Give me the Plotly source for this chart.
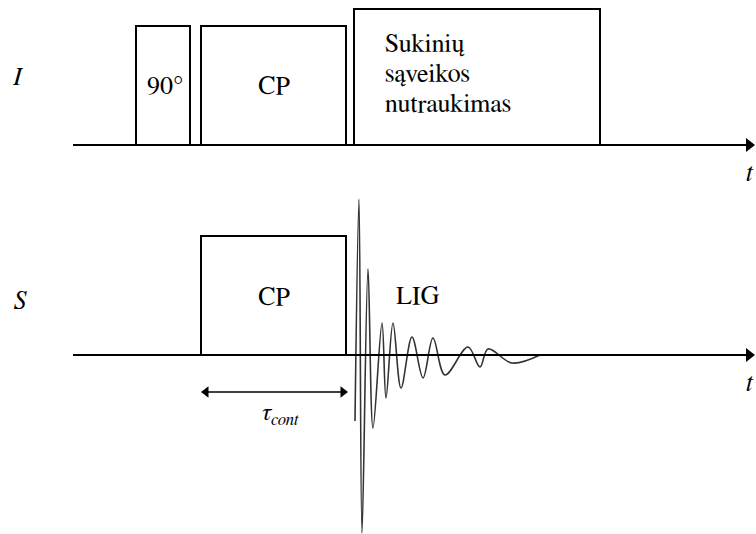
import plotly.graph_objects as go

W, H = 756, 534

# ---- data (time axis in drawing units, amplitudes relative to channel baseline) ----
I_baseline = 389
S_baseline = 179
axis_start = 73
axis_end = 755

I_pulse_labels = ["90°", "CP", ""]
I_pulse_start = [136, 201, 354]
I_pulse_end = [190, 346, 600]
I_pulse_height = [119, 119, 136]

S_pulse_labels = ["CP"]
S_pulse_start = [201]
S_pulse_end = [346]
S_pulse_height = [119]

fid_time = [355, 359, 362, 368, 373, 382, 386, 393, 401, 412, 423, 433, 445, 468, 480, 488, 512, 540]
fid_amp = [-66, 156, -178, 86, -73, 32, -43, 32, -33, 18, -23, 17, -20, 8, -12, 6, -8, 0]

tau_start, tau_end = 202, 347
decoupling_lines = ["Sukinių", "sąveikos", "nutraukimas"]

FONT = "FreeSerif, Liberation Serif, serif"
FS = 26
BLACK = "#000000"

fig = go.Figure()

def path(xs, ys, width=2, color=BLACK):
    fig.add_trace(go.Scatter(x=xs, y=ys, mode="lines", line=dict(color=color, width=width),
                             hoverinfo="skip", showlegend=False))

# pulses as closed outlines
for s, e, h in zip(I_pulse_start, I_pulse_end, I_pulse_height):
    path([s, s, e, e, s], [I_baseline, I_baseline + h, I_baseline + h, I_baseline, I_baseline])
for s, e, h in zip(S_pulse_start, S_pulse_end, S_pulse_height):
    path([s, s, e, e, s], [S_baseline, S_baseline + h, S_baseline + h, S_baseline, S_baseline])

# FID
fig.add_trace(go.Scatter(
    x=fid_time, y=[S_baseline + a for a in fid_amp], mode="lines",
    line=dict(color="#333333", width=1.6, shape="spline", smoothing=1.0),
    hoverinfo="skip", showlegend=False))

# time axes with arrowheads
for base in (I_baseline, S_baseline):
    path([axis_start, axis_end - 6], [base, base])
fig.add_trace(go.Scatter(
    x=[axis_end - 6, axis_end - 6], y=[I_baseline, S_baseline], mode="markers",
    marker=dict(symbol="triangle-right", size=12, color=BLACK, line=dict(width=0)),
    hoverinfo="skip", showlegend=False))

# tau_cont double arrow
tau_y = S_baseline - 37
path([tau_start + 5, tau_end - 5], [tau_y, tau_y], width=1.5)
fig.add_trace(go.Scatter(
    x=[tau_start + 4, tau_end - 4], y=[tau_y, tau_y], mode="markers",
    marker=dict(symbol=["triangle-left", "triangle-right"], size=10, color=BLACK, line=dict(width=0)),
    hoverinfo="skip", showlegend=False))

def label(x, y, text, size=FS, xanchor="center"):
    fig.add_annotation(x=x, y=y, xref="x", yref="y", text=text, showarrow=False,
                       xanchor=xanchor, font=dict(family=FONT, size=size, color=BLACK))

for base in (I_baseline, S_baseline):
    label(750, base - 28, "<i>t</i>")
label(280, tau_y - 22, "<i>τ<sub>cont</sub></i>", size=24)

# channel labels
label(18, H - 77, "<i>I</i>")
label(20, H - 301, "<i>S</i>")

# pulse labels
for lab, s, e in zip(I_pulse_labels, I_pulse_start, I_pulse_end):
    if lab:
        label((s + e) / 2 + (2 if lab == "90°" else 0), H - 86, lab)
for lab, s, e in zip(S_pulse_labels, S_pulse_start, S_pulse_end):
    label((s + e) / 2, H - 297, lab)
label(417, H - 296, "LIG")

for i, line in enumerate(decoupling_lines):
    label(383, H - 44 - 30 * i, line, xanchor="left")

fig.update_layout(
    width=W, height=H, margin=dict(l=0, r=0, t=0, b=0),
    plot_bgcolor="white",
    font=dict(family=FONT),
    xaxis=dict(range=[0, W], visible=False),
    yaxis=dict(range=[0, H], visible=False),
    showlegend=False)

fig.write_html("out.html")
